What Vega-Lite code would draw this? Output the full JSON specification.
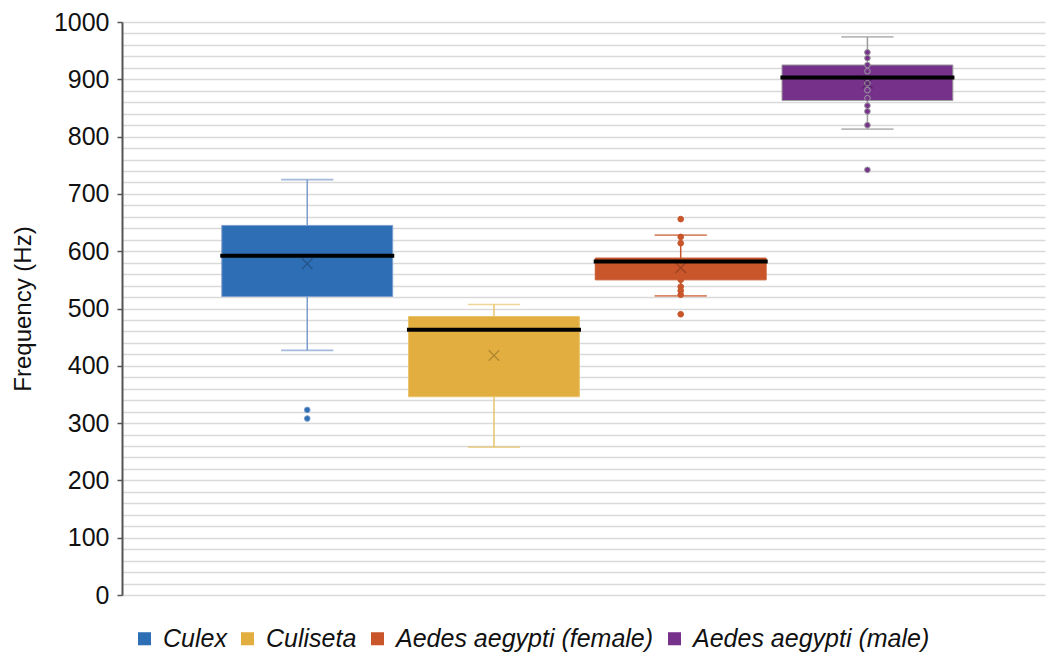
{
  "$schema": "https://vega.github.io/schema/vega-lite/v6.json",
  "width": 923,
  "height": 573,
  "autosize": {"type": "none"},
  "padding": {"left": 122, "top": 22, "right": 6, "bottom": 62},
  "background": "white",
  "config": {
    "view": {"stroke": null},
    "font": "Liberation Sans"
  },
  "datasets": {
    "summary": [
      {"species": "Culex", "lower": 427, "q1": 521, "median": 592, "q3": 645, "upper": 725, "mean": 578},
      {"species": "Culiseta", "lower": 258, "q1": 346, "median": 463, "q3": 486, "upper": 507, "mean": 418},
      {"species": "Aedes aegypti (female)", "lower": 522, "q1": 550, "median": 582, "q3": 588, "upper": 628, "mean": 571},
      {"species": "Aedes aegypti (male)", "lower": 813, "q1": 863, "median": 903, "q3": 925, "upper": 974, "mean": 893}
    ],
    "observations": [
      {"species": "Culex", "freq": 323},
      {"species": "Culex", "freq": 308},
      {"species": "Aedes aegypti (female)", "freq": 656},
      {"species": "Aedes aegypti (female)", "freq": 625},
      {"species": "Aedes aegypti (female)", "freq": 614},
      {"species": "Aedes aegypti (female)", "freq": 550},
      {"species": "Aedes aegypti (female)", "freq": 538},
      {"species": "Aedes aegypti (female)", "freq": 531},
      {"species": "Aedes aegypti (female)", "freq": 524},
      {"species": "Aedes aegypti (female)", "freq": 490},
      {"species": "Aedes aegypti (male)", "freq": 947},
      {"species": "Aedes aegypti (male)", "freq": 937},
      {"species": "Aedes aegypti (male)", "freq": 925},
      {"species": "Aedes aegypti (male)", "freq": 914},
      {"species": "Aedes aegypti (male)", "freq": 893},
      {"species": "Aedes aegypti (male)", "freq": 881},
      {"species": "Aedes aegypti (male)", "freq": 867},
      {"species": "Aedes aegypti (male)", "freq": 854},
      {"species": "Aedes aegypti (male)", "freq": 844},
      {"species": "Aedes aegypti (male)", "freq": 820},
      {"species": "Aedes aegypti (male)", "freq": 742}
    ]
  },
  "encoding": {
    "x": {
      "field": "species",
      "type": "nominal",
      "axis": null,
      "scale": {
        "domain": ["Culex", "Culiseta", "Aedes aegypti (female)", "Aedes aegypti (male)"],
        "paddingInner": 0.085,
        "paddingOuter": 0.514,
        "align": 0.52
      }
    }
  },
  "layer": [
    {
      "data": {"name": "summary"},
      "mark": {"type": "bar", "strokeWidth": 1},
      "encoding": {
        "y": {
          "field": "q1",
          "type": "quantitative",
          "title": "Frequency (Hz)",
          "scale": {"domain": [0, 1000], "nice": false},
          "axis": {
            "values": [0, 20, 40, 60, 80, 100, 120, 140, 160, 180, 200, 220, 240, 260, 280, 300, 320, 340, 360, 380, 400, 420, 440, 460, 480, 500, 520, 540, 560, 580, 600, 620, 640, 660, 680, 700, 720, 740, 760, 780, 800, 820, 840, 860, 880, 900, 920, 940, 960, 980, 1000],
            "tickCount": 60,
            "format": "d",
            "labelExpr": "datum.value % 100 === 0 ? datum.label : ''",
            "labelOverlap": false,
            "labelFontSize": 25,
            "labelColor": "#111",
            "labelPadding": 8,
            "tickSize": 5,
            "tickColor": "#555",
            "tickWidth": 1.5,
            "tickOpacity": {"condition": {"test": "datum.value % 100 === 0", "value": 1}, "value": 0},
            "domainColor": "#555",
            "domainWidth": 2,
            "gridColor": "#d9d9d9",
            "gridWidth": 1.3,
            "titleFontSize": 24,
            "titleFontWeight": "normal",
            "titleColor": "#111",
            "titlePadding": 18
          }
        },
        "y2": {"field": "q3"},
        "fill": {
          "field": "species",
          "type": "nominal",
          "scale": {
            "domain": ["Culex", "Culiseta", "Aedes aegypti (female)", "Aedes aegypti (male)"],
            "range": ["#2E6EB5", "#E3AE40", "#C9562B", "#76318B"]
          },
          "legend": {
            "title": null,
            "orient": "none",
            "direction": "horizontal",
            "legendX": 10,
            "legendY": 604,
            "symbolType": "square",
            "symbolSize": 170,
            "symbolStrokeWidth": 0,
            "labelFontSize": 25,
            "labelFontStyle": "italic",
            "labelColor": "#111",
            "labelLimit": 500,
            "labelOffset": 6,
            "columnPadding": 8
          }
        },
        "stroke": {
          "field": "species",
          "type": "nominal",
          "scale": {
            "domain": ["Culex", "Culiseta", "Aedes aegypti (female)", "Aedes aegypti (male)"],
            "range": ["#7C9DCC", "#E8C46C", "#C9562B", "#9C9C9C"]
          },
          "legend": null
        }
      }
    },
    {
      "data": {"name": "summary"},
      "mark": {"type": "rule", "strokeWidth": 1.5},
      "encoding": {
        "y": {"field": "lower", "type": "quantitative"},
        "y2": {"field": "q1"},
        "stroke": {"field": "species", "type": "nominal", "legend": null}
      }
    },
    {
      "data": {"name": "summary"},
      "mark": {"type": "rule", "strokeWidth": 1.5},
      "encoding": {
        "y": {"field": "q3", "type": "quantitative"},
        "y2": {"field": "upper"},
        "stroke": {"field": "species", "type": "nominal", "legend": null}
      }
    },
    {
      "data": {"name": "summary"},
      "mark": {"type": "tick", "size": 51, "thickness": 0.3, "filled": false, "strokeWidth": 1.3},
      "encoding": {
        "y": {"field": "lower", "type": "quantitative"},
        "stroke": {"field": "species", "type": "nominal", "legend": null}
      }
    },
    {
      "data": {"name": "summary"},
      "mark": {"type": "tick", "size": 51, "thickness": 0.3, "filled": false, "strokeWidth": 1.3},
      "encoding": {
        "y": {"field": "upper", "type": "quantitative"},
        "stroke": {"field": "species", "type": "nominal", "legend": null}
      }
    },
    {
      "data": {"name": "observations"},
      "mark": {"type": "point", "filled": true, "size": 32, "strokeWidth": 1, "opacity": 1},
      "encoding": {
        "y": {"field": "freq", "type": "quantitative"},
        "fill": {"field": "species", "type": "nominal", "legend": null},
        "stroke": {"field": "species", "type": "nominal", "legend": null}
      }
    },
    {
      "data": {"name": "summary"},
      "mark": {"type": "point", "shape": "M-1,-1L1,1M1,-1L-1,1", "filled": false, "size": 110, "strokeWidth": 1.4, "color": "#000", "opacity": 0.22},
      "encoding": {
        "y": {"field": "mean", "type": "quantitative"}
      }
    },
    {
      "data": {"name": "summary"},
      "mark": {"type": "tick", "size": 174, "thickness": 4, "color": "#000", "opacity": 1},
      "encoding": {
        "y": {"field": "median", "type": "quantitative"}
      }
    }
  ]
}
